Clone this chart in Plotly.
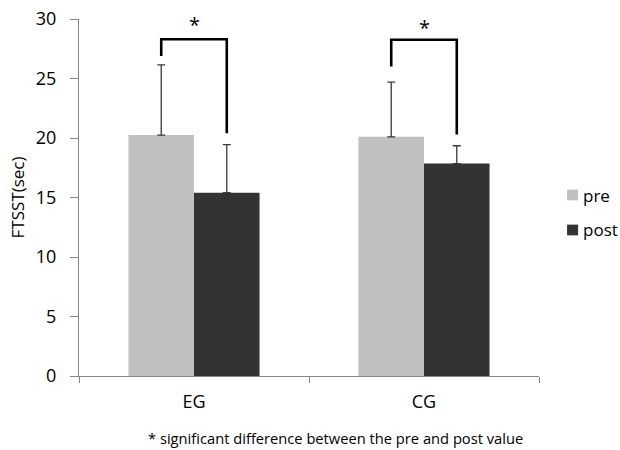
import plotly.graph_objects as go

categories = ["EG", "CG"]
series_names = ["pre", "post"]
series_colors = ["#C0C0C0", "#333333"]
pre_mean = [20.25, 20.1]
pre_sd = [5.9, 4.6]
post_mean = [15.4, 17.85]
post_sd = [4.05, 1.5]
bracket_top = [28.3, 28.25]
bracket_left_end = [26.9, 26.0]
bracket_right_end = [20.4, 20.3]
star_y = [29.5, 29.25]
y_ticks = [0, 5, 10, 15, 20, 25, 30]

FONT = "Open Sans"
bargap = 0.43
half = (1 - bargap) / 4  # offset of each bar centre from category centre

fig = go.Figure()
for name, color, mean, sd in zip(series_names, series_colors,
                                 [pre_mean, post_mean], [pre_sd, post_sd]):
    fig.add_trace(go.Bar(
        x=categories, y=mean, name=name, marker_color=color,
        marker_line_width=0, showlegend=False,
        error_y=dict(type="data", array=sd, symmetric=False,
                     arrayminus=[0] * len(sd),
                     color="#3a3a3a", thickness=1.3, width=4)))

for i in range(len(categories)):
    xl = i - half
    xr = i + half
    fig.add_shape(type="path",
                  path=f"M {xl} {bracket_left_end[i]} L {xl} {bracket_top[i]} L {xr} {bracket_top[i]} L {xr} {bracket_right_end[i]}",
                  xref="x", yref="y", line=dict(color="black", width=2.6))
    fig.add_annotation(x=i, y=star_y[i], xref="x", yref="y", text="*",
                       showarrow=False, yanchor="middle",
                       font=dict(family=FONT, size=20, color="black"))

# legend drawn manually (square swatch + label)
legend_y = [0.507, 0.409]
for name, color, ly in zip(series_names, series_colors, legend_y):
    fig.add_shape(type="rect", xref="paper", yref="paper",
                  x0=1.061, x1=1.085, y0=ly - 0.015, y1=ly + 0.015,
                  fillcolor=color, line_width=0)
    fig.add_annotation(x=1.092, y=ly, xref="paper", yref="paper", text=name,
                       showarrow=False, xanchor="left", yanchor="middle",
                       font=dict(family=FONT, size=17, color="black"))

fig.add_annotation(x=(335 - 79) / 460, y=-0.206, xref="paper", yref="paper",
                   text="* significant difference between the pre and post value",
                   showarrow=False, font=dict(family=FONT, size=14.7, color="black"))

fig.update_layout(
    width=620, height=450,
    margin=dict(l=79, r=81, t=19, b=74, autoexpand=False),
    paper_bgcolor="white", plot_bgcolor="white",
    barmode="group", bargap=bargap, bargroupgap=0,
    font=dict(family=FONT, size=17, color="black"),
    showlegend=False,
    xaxis=dict(showline=True, linecolor="#868686", linewidth=1.3, automargin=False,
               ticks="outside", tickson="boundaries", ticklen=6, tickcolor="#868686",
               tickfont=dict(size=18), showgrid=False, ticklabelstandoff=9),
    yaxis=dict(range=[0, 30], tickvals=y_ticks, showline=True, linecolor="#868686",
               linewidth=1.3, ticks="outside", ticklen=8, tickcolor="#868686",
               ticklabelstandoff=10, showgrid=False, zeroline=False, automargin=False,
               ticklabeloverflow="allow", tickfont=dict(size=18),
               title=dict(text="FTSST(sec)", font=dict(size=17), standoff=6)),
)

fig.write_html("out.html", config={"displayModeBar": False},
               post_script="document.body.style.margin='0';document.body.style.overflow='hidden';")
